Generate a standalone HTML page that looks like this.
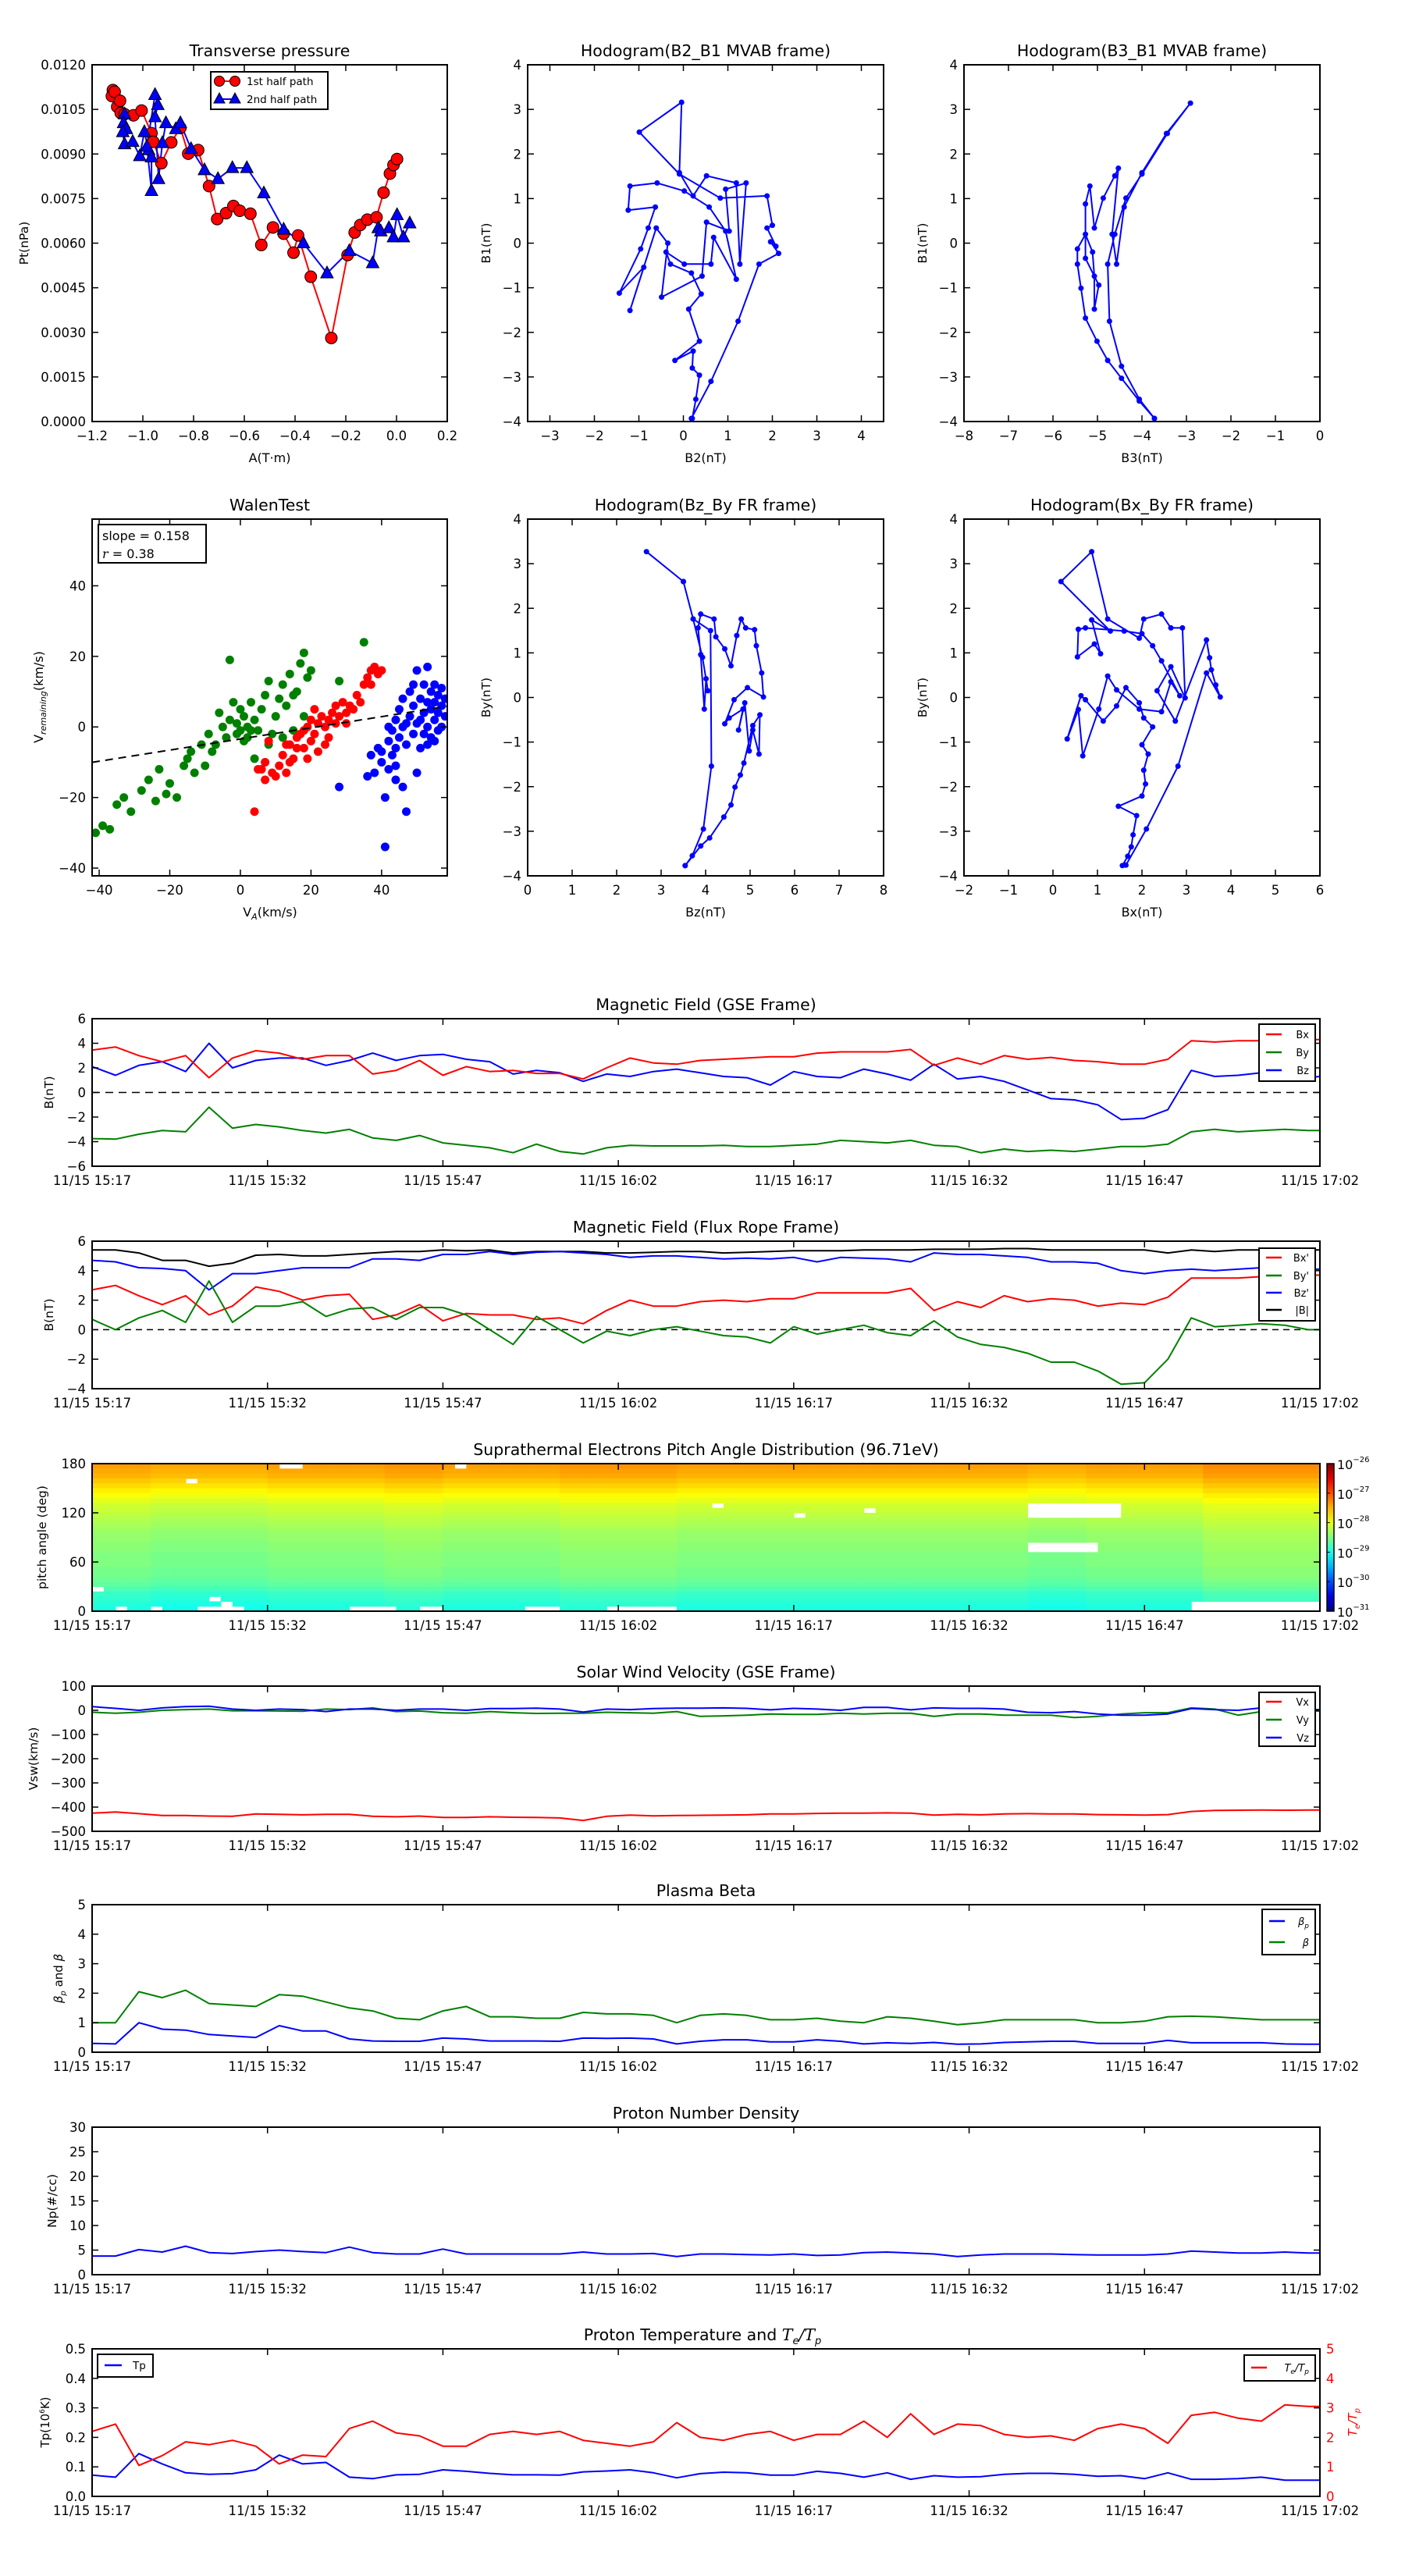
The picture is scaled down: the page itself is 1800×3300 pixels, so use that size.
<!DOCTYPE html>
<html><head><meta charset="utf-8">
<style>
html,body{margin:0;padding:0;background:#fff}
svg{display:block}
text{font-family:"DejaVu Sans","Liberation Sans",sans-serif;fill:#000}
</style></head>
<body>
<svg id="fig" xmlns="http://www.w3.org/2000/svg" width="1800" height="3300" viewBox="0 0 1800 3300"></svg>
<script>
// ---------- DATA ----------
const A1 = [-1.118,-1.122,-1.111,-1.101,-1.090,-1.087,-1.072,-1.037,-1.005,-0.966,-0.959,-0.927,-0.888,-0.852,-0.821,-0.782,-0.739,-0.707,-0.672,-0.643,-0.618,-0.576,-0.533,-0.487,-0.445,-0.406,-0.388,-0.338,-0.257,-0.193,-0.165,-0.143,-0.115,-0.079,-0.051,-0.026,-0.012,0.002];
const Pt1 = [0.01115,0.01095,0.01109,0.01059,0.01079,0.01038,0.01034,0.01030,0.01046,0.00970,0.00941,0.00869,0.00939,0.00988,0.00901,0.00913,0.00792,0.00681,0.00701,0.00725,0.00709,0.00699,0.00594,0.00653,0.00632,0.00568,0.00626,0.00487,0.00281,0.00560,0.00636,0.00661,0.00679,0.00687,0.00770,0.00834,0.00863,0.00883];
const A2 = [-1.072,-1.076,-1.065,-1.079,-1.072,-1.040,-1.012,-0.994,-0.977,-0.966,-0.966,-0.984,-0.952,-0.941,-0.952,-0.938,-0.923,-0.909,-0.870,-0.852,-0.810,-0.757,-0.704,-0.647,-0.590,-0.523,-0.445,-0.367,-0.274,-0.186,-0.094,-0.072,-0.062,-0.030,-0.012,0.002,0.027,0.052];
const Pt2 = [0.01034,0.01004,0.00984,0.00974,0.00933,0.00941,0.00893,0.00974,0.00913,0.00889,0.00776,0.00925,0.01099,0.01065,0.01024,0.00816,0.00937,0.01004,0.00984,0.01004,0.00917,0.00846,0.00816,0.00853,0.00853,0.00768,0.00646,0.00600,0.00499,0.00574,0.00533,0.00651,0.00640,0.00651,0.00620,0.00695,0.00620,0.00667];

const B2B1x = [0.20,0.28,0.36,0.20,0.22,-0.19,0.36,0.12,0.40,0.18,-0.29,-0.39,0.02,0.62,0.68,1.19,0.95,0.58,0.02,-0.59,-1.20,-1.24,-0.63,-0.79,-0.96,-1.44,-0.89,-1.20,-0.61,-0.35,-0.49,0.42,0.52,1.03,0.95,1.41,1.27,1.19,0.52,0.22,-0.09,-0.04,-0.99,-0.09,0.83,1.88,2.00,1.88,2.08,1.96,2.14,1.70,1.23,0.62,0.18];
const B2B1y = [-3.93,-3.50,-2.96,-2.80,-2.42,-2.63,-2.20,-1.48,-1.14,-0.67,-0.47,-0.20,-0.47,-0.47,0.13,-0.81,0.27,0.81,1.17,1.35,1.28,0.74,0.81,0.34,-0.13,-1.12,-0.54,-1.51,0.34,0.00,-1.21,-0.74,0.47,0.27,1.21,1.35,-0.47,1.35,1.51,1.06,1.58,3.16,2.49,1.55,1.01,1.06,0.40,0.34,-0.07,0.03,-0.23,-0.47,-1.75,-3.10,-3.93];
const B3B1x = [-3.72,-4.06,-4.46,-4.77,-5.01,-5.27,-5.37,-5.45,-5.45,-5.27,-5.11,-5.07,-5.07,-4.97,-5.27,-5.27,-5.17,-5.07,-4.87,-4.61,-4.53,-4.67,-4.57,-4.40,-4.00,-3.45,-2.91,-3.43,-4.00,-4.36,-4.61,-4.77,-4.73,-4.46,-4.06,-3.72];
const B3B1y = [-3.93,-3.54,-3.03,-2.63,-2.20,-1.68,-1.01,-0.47,-0.13,0.20,-0.20,-0.74,-1.48,-0.94,-0.34,0.88,1.28,0.34,1.01,1.51,1.68,0.20,-0.47,0.81,1.58,2.46,3.14,2.46,1.55,1.01,0.20,-0.47,-1.75,-2.76,-3.50,-3.93];
const BzByx = [3.54,3.89,4.09,4.41,4.57,4.66,4.78,4.86,5.06,5.22,5.20,5.06,4.98,4.88,4.74,4.84,4.53,4.43,4.64,4.94,5.30,5.26,5.14,5.10,4.90,4.80,4.70,4.57,4.43,4.23,4.19,3.89,3.83,3.89,3.97,4.01,4.05,3.93,3.72,3.50,2.67,3.50,3.72,4.11,4.13,3.95,3.70,3.54];
const BzByy = [-3.77,-3.33,-3.15,-2.68,-2.41,-2.01,-1.74,-1.47,-0.63,-0.39,-1.27,-0.73,-1.20,-0.12,-0.73,-0.26,-0.46,-0.59,-0.05,0.22,0.01,0.55,1.16,1.52,1.56,1.76,1.39,0.71,1.09,1.36,1.76,1.87,1.56,0.96,-0.26,0.42,0.15,0.90,1.76,2.60,3.27,2.60,1.76,1.50,-1.54,-2.95,-3.55,-3.77];
const BxByx = [1.56,1.68,1.76,1.80,1.88,1.47,2.00,2.08,2.04,2.14,2.00,2.24,2.04,1.94,1.64,1.43,1.13,0.73,0.63,0.32,0.57,0.67,1.03,1.23,1.43,1.94,2.44,2.65,2.85,2.44,2.24,2.00,1.60,0.73,0.57,0.55,0.93,1.07,0.87,1.29,0.18,0.87,1.23,1.94,2.04,2.44,2.65,2.91,2.97,2.65,2.34,2.75,3.45,3.52,3.56,3.66,3.76,3.45,2.81,2.10,1.64];
const BxByy = [-3.77,-3.56,-3.35,-3.08,-2.65,-2.44,-2.21,-1.94,-1.63,-1.27,-1.06,-0.66,-0.46,-0.12,0.22,-0.19,-0.53,-0.05,0.04,-0.93,-0.27,-1.31,-0.26,0.48,0.17,-0.26,-0.32,0.35,0.04,0.82,1.16,1.43,1.49,1.56,1.53,0.91,1.20,0.98,1.74,1.49,2.60,3.27,1.76,1.33,1.76,1.87,1.56,1.56,-0.01,0.69,0.15,-0.53,1.29,0.89,0.62,0.28,0.01,0.55,-1.54,-2.95,-3.76];

const walenGreenVA = [-41,-39,-37,-35,-33,-31,-28,-26,-24,-23,-21,-20,-18,-16,-15,-14,-13,-11,-10,-9,-8,-7,-6,-5,-4,-3,-2,-1,0,1,1,2,3,4,4,5,6,7,8,8,9,10,11,12,12,13,14,15,15,16,17,18,18,19,20,-3,0,2,-1,3,28,35];
const walenGreenVR = [-30,-28,-29,-22,-20,-24,-18,-15,-21,-12,-19,-16,-20,-11,-9,-7,-13,-5,-11,-2,-7,-5,4,0,-3,2,7,-2,5,3,-4,0,7,-9,2,-1,5,9,13,-5,-2,3,8,12,-3,6,15,9,-1,10,18,3,21,14,16,19,-1,-3,1,-1,13,24];
const walenRedVA = [4,5,6,7,7,8,9,10,11,12,13,14,14,15,16,16,17,18,18,19,20,20,21,22,22,23,24,25,25,26,27,27,28,29,30,31,32,33,34,35,36,37,38,39,40,37,19,24,13,21,30];
const walenRedVR = [-24,-12,-12,-15,-10,-4,-13,-14,-11,-8,-13,-10,-5,-9,-3,-6,-2,-1,-6,0,-4,2,-2,1,-7,3,0,2,-3,4,1,6,3,7,4,6,5,9,7,12,14,16,17,15,16,12,-9,-5,-5,5,1];
const walenBlueVA = [28,36,37,38,39,40,41,41,42,42,43,43,44,44,44,45,45,46,46,47,47,48,48,49,49,50,50,50,51,51,52,52,52,53,53,53,54,54,54,55,55,55,56,56,56,57,57,57,58,58,40,42,46,49,51,55,44,47,53];
const walenBlueVR = [-17,-14,-8,-13,-6,-10,-20,-34,-12,-4,-8,-1,-11,2,-6,-3,5,-17,0,-24,-5,3,10,-2,6,-13,1,16,8,-6,4,12,-2,17,7,0,10,-3,5,2,12,7,-1,9,4,6,11,0,3,8,-7,0,8,12,2,-4,-15,1,-5];
const walenSlope = 0.158, walenIntercept = -3.4;

// time grid (minutes after 11/15 15:17)
const T = [0,2,4,6,8,10,12,14,16,18,20,22,24,26,28,30,32,34,36,38,40,42,44,46,48,50,52,54,56,58,60,62,64,66,68,70,72,74,76,78,80,82,84,86,88,90,92,94,96,98,100,102,104,105];
const timeTickValues = [0,15,30,45,60,75,90,105];
const timeTickLabels = ['11/15 15:17','11/15 15:32','11/15 15:47','11/15 16:02','11/15 16:17','11/15 16:32','11/15 16:47','11/15 17:02'];

const gseBx = [3.45,3.7,3.0,2.5,3.0,1.2,2.8,3.4,3.2,2.7,3.0,3.0,1.5,1.8,2.6,1.4,2.1,1.7,1.8,1.55,1.55,1.1,2.0,2.8,2.4,2.3,2.6,2.7,2.8,2.9,2.9,3.2,3.3,3.3,3.3,3.5,2.2,2.8,2.3,3.0,2.7,2.85,2.6,2.5,2.3,2.3,2.7,4.2,4.1,4.2,4.2,4.2,4.3,4.3];
const gseBy = [-3.75,-3.8,-3.4,-3.1,-3.2,-1.2,-2.9,-2.6,-2.8,-3.1,-3.3,-3.0,-3.7,-3.9,-3.5,-4.1,-4.3,-4.5,-4.9,-4.2,-4.8,-5.0,-4.5,-4.3,-4.35,-4.35,-4.35,-4.3,-4.4,-4.4,-4.3,-4.2,-3.9,-4.0,-4.1,-3.9,-4.3,-4.4,-4.9,-4.6,-4.8,-4.7,-4.8,-4.6,-4.4,-4.4,-4.2,-3.2,-3.0,-3.2,-3.1,-3.0,-3.1,-3.1];
const gseBz = [2.1,1.4,2.2,2.5,1.7,4.0,2.0,2.6,2.8,2.8,2.2,2.6,3.2,2.6,3.0,3.1,2.7,2.5,1.5,1.8,1.6,0.9,1.5,1.3,1.7,1.9,1.6,1.3,1.2,0.6,1.7,1.3,1.2,1.9,1.5,1.0,2.3,1.1,1.3,0.9,0.2,-0.5,-0.6,-1.0,-2.2,-2.1,-1.4,1.8,1.3,1.4,1.6,1.5,1.2,1.3];

const frBx = [2.7,3.0,2.3,1.7,2.3,1.0,1.6,2.9,2.6,2.0,2.3,2.4,0.7,1.0,1.7,0.6,1.1,1.0,1.0,0.7,0.8,0.4,1.3,2.0,1.6,1.6,1.9,2.0,1.9,2.1,2.1,2.5,2.5,2.5,2.5,2.8,1.3,1.9,1.5,2.3,1.9,2.1,2.0,1.6,1.8,1.7,2.2,3.5,3.5,3.5,3.6,3.6,3.7,3.7];
const frBy = [0.7,0.0,0.8,1.3,0.5,3.3,0.5,1.6,1.6,1.9,0.9,1.4,1.5,0.7,1.5,1.5,1.0,0.0,-1.0,0.9,0.0,-0.9,-0.1,-0.4,0.0,0.2,-0.1,-0.4,-0.5,-0.9,0.2,-0.3,0.0,0.3,-0.2,-0.4,0.6,-0.5,-1.0,-1.2,-1.6,-2.2,-2.2,-2.8,-3.7,-3.6,-2.0,0.8,0.2,0.3,0.4,0.3,0.0,0.0];
const frBz = [4.7,4.6,4.2,4.15,4.0,2.7,3.8,3.8,4.0,4.2,4.2,4.2,4.8,4.8,4.7,5.1,5.1,5.3,5.1,5.25,5.3,5.2,5.1,4.9,5.0,5.0,4.9,4.8,4.85,4.8,4.9,4.6,4.9,4.85,4.8,4.6,5.2,5.1,5.1,5.0,4.9,4.6,4.6,4.5,4.0,3.8,4.0,4.1,4.0,4.1,4.2,4.1,4.1,4.1];
const frBmag = [5.4,5.4,5.2,4.7,4.7,4.3,4.5,5.05,5.1,5.0,5.0,5.1,5.2,5.3,5.3,5.4,5.35,5.4,5.2,5.3,5.3,5.3,5.2,5.2,5.25,5.3,5.3,5.2,5.25,5.3,5.35,5.35,5.35,5.4,5.4,5.4,5.45,5.45,5.45,5.5,5.5,5.4,5.4,5.4,5.4,5.4,5.2,5.4,5.3,5.4,5.4,5.4,5.4,5.4];

const vswVx = [-425,-420,-427,-435,-435,-437,-438,-428,-430,-432,-430,-430,-438,-440,-437,-443,-443,-440,-442,-443,-445,-455,-438,-433,-436,-435,-434,-433,-432,-428,-428,-426,-425,-425,-424,-425,-433,-430,-432,-428,-427,-428,-428,-431,-432,-433,-431,-418,-414,-413,-412,-413,-412,-412];
const vswVy = [-8,-12,-8,0,3,5,-2,-2,-3,-4,5,3,10,-5,-3,-10,-12,-5,-10,-13,-12,-12,-8,-10,-12,-5,-25,-23,-20,-15,-17,-17,-12,-15,-12,-12,-25,-15,-15,-20,-20,-20,-30,-25,-15,-10,-10,10,5,-20,-5,-3,-5,-3];
const vswVz = [15,8,0,10,15,17,5,0,5,3,-5,5,5,0,5,5,0,7,7,9,5,-7,5,3,7,9,9,10,8,2,8,5,0,12,12,2,10,8,8,5,-8,-10,-5,-15,-20,-20,-15,7,3,0,10,5,3,3];

const betaP = [.3,.28,1.0,.78,.75,.6,.55,.5,.9,.72,.72,.45,.38,.37,.37,.48,.45,.38,.38,.38,.37,.48,.47,.48,.45,.28,.37,.42,.42,.35,.35,.42,.37,.28,.32,.3,.33,.27,.28,.33,.35,.37,.37,.3,.3,.3,.4,.32,.32,.32,.32,.28,.27,.27];
const betaTot = [1.0,1.0,2.05,1.85,2.1,1.65,1.6,1.55,1.95,1.9,1.7,1.5,1.4,1.15,1.1,1.4,1.55,1.2,1.2,1.15,1.15,1.35,1.3,1.3,1.25,1.0,1.25,1.3,1.25,1.1,1.1,1.15,1.05,1.0,1.2,1.15,1.05,0.93,1.0,1.1,1.1,1.1,1.1,1.0,1.0,1.05,1.2,1.22,1.2,1.15,1.1,1.1,1.1,1.1];
const npDensity = [3.8,3.8,5.1,4.6,5.8,4.5,4.3,4.7,5.0,4.7,4.5,5.6,4.5,4.2,4.2,5.2,4.2,4.2,4.2,4.2,4.2,4.6,4.2,4.2,4.3,3.7,4.2,4.2,4.1,4.0,4.2,3.9,4.0,4.5,4.6,4.4,4.2,3.7,4.0,4.2,4.2,4.2,4.1,4.0,4.0,4.0,4.2,4.8,4.6,4.4,4.4,4.6,4.4,4.4];
const tpTemp = [.072,.065,.145,.11,.08,.075,.077,.09,.14,.11,.115,.065,.06,.073,.075,.09,.085,.078,.073,.073,.072,.083,.086,.09,.08,.063,.077,.082,.08,.072,.072,.085,.078,.065,.08,.058,.07,.065,.067,.075,.078,.078,.075,.068,.07,.06,.08,.058,.058,.06,.065,.055,.055,.055];
const teTpRatio = [2.2,2.45,1.05,1.38,1.85,1.75,1.9,1.7,1.1,1.4,1.35,2.3,2.55,2.15,2.05,1.7,1.7,2.1,2.2,2.1,2.2,1.9,1.8,1.7,1.85,2.5,2.0,1.9,2.1,2.2,1.9,2.1,2.1,2.55,2.0,2.8,2.1,2.45,2.4,2.1,2.0,2.05,1.9,2.3,2.45,2.3,1.8,2.75,2.85,2.65,2.55,3.1,3.05,3.05];

// PAD heatmap: log10 flux per pitch-angle row (top row = 174-180 deg first), per 5-min segment offsets, blank cells
const padRowLog = [-27.4,-27.45,-27.5,-27.6,-27.7,-27.8,-27.9,-28.0,-28.1,-28.15,-28.2,-28.25,-28.3,-28.35,-28.4,-28.4,-28.45,-28.45,-28.5,-28.5,-28.5,-28.55,-28.55,-28.6,-28.65,-28.75,-28.85,-28.9,-28.95,-29.0];
const padSegOffset = [0,-0.05,-0.05,0,0,0.05,0,0,0.05,0.05,0,0,0,0,0,0,-0.05,0,0,0.1,0.1];
const padBlankCol = [2,5,9,10,11,11,12,22,23,24,25,28,29,37,38,39,44,45,46,47,48,49,0,10,8,16,17,31,53,60,66];
const padBlankRow = [29,29,29,29,28,29,29,29,29,29,29,29,29,29,29,29,29,29,29,29,29,29,25,27,3,0,0,0,8,10,9];
const padBlockCols = [[80,87],[80,85],[94,104]];
const padBlockRows = [[8,10],[16,17],[28,29]];
const cbDecades = [-26,-27,-28,-29,-30,-31];

// ---------- HELPERS ----------
const NS = 'http://www.w3.org/2000/svg';
const svg = document.getElementById('fig');
function mk(tag, attrs, parent, name, inter) {
  const e = document.createElementNS(NS, tag);
  for (const k in attrs) e.setAttribute(k, attrs[k]);
  
  
  (parent || svg).appendChild(e);
  return e;
}
function txt(str, x, y, attrs, parent, name) {
  const t = mk('text', Object.assign({x: x, y: y}, attrs || {}), parent, name);
  t.textContent = str;
  return t;
}
const minus = s => String(s).replace('-', '\u2212');
function axes(name, x0, x1, y0, y1, xd, yd) {
  const g = mk('g', {}, svg, name);
  const sx = v => x0 + (v - xd[0]) / (xd[1] - xd[0]) * (x1 - x0);
  const sy = v => y1 - (v - yd[0]) / (yd[1] - yd[0]) * (y1 - y0);
  const cid = 'clip-' + name;
  const cp = mk('clipPath', {id: cid}, g, name + '-clip');
  mk('rect', {x: x0, y: y0, width: x1 - x0, height: y1 - y0}, cp, name + '-clip-rect');
  const plot = mk('g', {'clip-path': 'url(#' + cid + ')'}, g, name + '-plot-area');
  return {name, g, plot, sx, sy, x0, x1, y0, y1};
}
function frame(ax, xt, xl, yt, yl, opt) {
  opt = opt || {};
  mk('rect', {x: ax.x0, y: ax.y0, width: ax.x1 - ax.x0, height: ax.y1 - ax.y0, fill: 'none', stroke: '#000', 'stroke-width': 2}, ax.g, ax.name + '-frame');
  const xg = mk('g', {}, ax.g, ax.name + '-x-axis');
  xt.forEach((v, i) => {
    const x = ax.sx(v);
    mk('line', {x1: x, x2: x, y1: ax.y1, y2: ax.y1 - 8, stroke: '#000', 'stroke-width': 1.5}, xg, 'x-tick');
    mk('line', {x1: x, x2: x, y1: ax.y0, y2: ax.y0 + 8, stroke: '#000', 'stroke-width': 1.5}, xg, 'x-tick-top');
    txt(xl[i], x, ax.y1 + 24, {'text-anchor': 'middle', 'font-size': 16.5}, xg, 'x-tick-label');
  });
  const yg = mk('g', {}, ax.g, ax.name + '-y-axis');
  yt.forEach((v, i) => {
    const y = ax.sy(v);
    mk('line', {x1: ax.x0, x2: ax.x0 + 8, y1: y, y2: y, stroke: '#000', 'stroke-width': 1.5}, yg, 'y-tick');
    if (!opt.noRight) mk('line', {x1: ax.x1, x2: ax.x1 - 8, y1: y, y2: y, stroke: '#000', 'stroke-width': 1.5}, yg, 'y-tick-right');
    txt(yl[i], ax.x0 - 8, y + 6, {'text-anchor': 'end', 'font-size': 16.5}, yg, 'y-tick-label');
  });
}
function title(ax, s, name) {
  return txt(s, (ax.x0 + ax.x1) / 2, ax.y0 - 11, {'text-anchor': 'middle', 'font-size': 20.5}, ax.g, name);
}
function ylabel(ax, s, x, name) {
  const cy = (ax.y0 + ax.y1) / 2;
  return txt(s, x, cy, {'text-anchor': 'middle', 'font-size': 15.5, transform: 'rotate(-90 ' + x + ' ' + cy + ')', dy: 5}, ax.g, name);
}
function xlabel(ax, s, name) {
  return txt(s, (ax.x0 + ax.x1) / 2, ax.y1 + 52, {'text-anchor': 'middle', 'font-size': 16}, ax.g, name);
}
function line(ax, xs, ys, color, name, extra) {
  const n = Math.min(xs.length, ys.length);
  const pts = [];
  for (let i = 0; i < n; i++) pts.push(ax.sx(xs[i]).toFixed(1) + ',' + ax.sy(ys[i]).toFixed(1));
  return mk('polyline', Object.assign({points: pts.join(' '), fill: 'none', stroke: color, 'stroke-width': 2, 'stroke-linejoin': 'round'}, extra || {}), ax.plot, name);
}
function range(a, b, s) { const r = []; for (let v = a; v <= b + 1e-9; v += s) r.push(+v.toFixed(6)); return r; }
function legend(x, y, w, h, items, name, fs) {
  const g = mk('g', {}, svg, name);
  mk('rect', {x: x, y: y, width: w, height: h, fill: '#fff', stroke: '#000', 'stroke-width': 2}, g, name + '-box');
  items.forEach(it => {
    const e = mk('g', {}, g, 'legend-entry');
    mk('line', {x1: x + 9, x2: x + 29, y1: it.y, y2: it.y, stroke: it.color, 'stroke-width': 2.5}, e, 'legend-swatch');
    const t = txt('', x + w - 8, it.y + 5, {'text-anchor': 'end', 'font-size': fs || 13}, e, 'legend-label');
    it.parts.forEach(p => {
      const ts = mk('tspan', p.attrs || {}, t, 'legend-label-part');
      ts.textContent = p.s;
    });
  });
  return g;
}
function timeFrame(ax, yt, yl, opt) {
  frame(ax, timeTickValues, timeTickLabels, yt, yl, opt);
}
function zeroLine(ax, dash) {
  mk('line', {x1: ax.x0, x2: ax.x1, y1: ax.sy(0), y2: ax.sy(0), stroke: '#000', 'stroke-width': 1.5, 'stroke-dasharray': dash || '10,7'}, ax.plot, 'zero-line');
}
function jet(v) {
  v = Math.max(0, Math.min(1, v));
  const c = x => Math.round(255 * Math.max(0, Math.min(1, x)));
  return 'rgb(' + c(1.5 - Math.abs(4 * v - 3)) + ',' + c(1.5 - Math.abs(4 * v - 2)) + ',' + c(1.5 - Math.abs(4 * v - 1)) + ')';
}

// ---------- 1. Transverse pressure ----------
{
  const ax = axes('transverse-pressure-chart', 118, 573, 83, 540, [-1.2, 0.2], [0, 0.012]);
  line(ax, A1, Pt1, '#f00', 'first-half-path-line');
  line(ax, A2, Pt2, '#00f', 'second-half-path-line');
  for (let i = 0; i < A1.length; i++) {
    mk('circle', {cx: ax.sx(A1[i]), cy: ax.sy(Pt1[i]), r: 7.5, fill: '#f00', stroke: '#000', 'stroke-width': 1}, ax.plot, 'first-half-point');
  }
  for (let i = 0; i < A2.length; i++) {
    const x = ax.sx(A2[i]), y = ax.sy(Pt2[i]);
    mk('polygon', {points: x + ',' + (y - 9) + ' ' + (x - 8) + ',' + (y + 6) + ' ' + (x + 8) + ',' + (y + 6), fill: '#00f', stroke: '#000', 'stroke-width': 1}, ax.plot, 'second-half-point');
  }
  const xt = range(-1.2, 0.2, 0.2);
  const yt = range(0, 0.012, 0.0015);
  frame(ax, xt, xt.map(v => minus(v.toFixed(1))), yt, yt.map(v => v.toFixed(4)));
  title(ax, 'Transverse pressure', 'transverse-pressure-title');
  xlabel(ax, 'A(T\u00b7m)', 'x-axis-title');
  ylabel(ax, 'Pt(nPa)', 31, 'y-axis-title');
  const lg = mk('g', {}, svg, 'transverse-legend');
  mk('rect', {x: 270, y: 92, width: 150, height: 48, fill: '#fff', stroke: '#000', 'stroke-width': 2}, lg, 'transverse-legend-box');
  const e1 = mk('g', {}, lg, 'legend-entry');
  mk('line', {x1: 281, x2: 301, y1: 104, y2: 104, stroke: '#f00', 'stroke-width': 2}, e1, 'legend-swatch');
  mk('circle', {cx: 281, cy: 104, r: 6.5, fill: '#f00', stroke: '#000'}, e1, 'legend-marker');
  mk('circle', {cx: 301, cy: 104, r: 6.5, fill: '#f00', stroke: '#000'}, e1, 'legend-marker');
  txt('1st half path', 316, 109, {'font-size': 13.5}, e1, 'legend-label');
  const e2 = mk('g', {}, lg, 'legend-entry');
  mk('line', {x1: 281, x2: 301, y1: 127, y2: 127, stroke: '#00f', 'stroke-width': 2}, e2, 'legend-swatch');
  mk('polygon', {points: '281,119 274,132 288,132', fill: '#00f', stroke: '#000'}, e2, 'legend-marker');
  mk('polygon', {points: '301,119 294,132 308,132', fill: '#00f', stroke: '#000'}, e2, 'legend-marker');
  txt('2nd half path', 316, 132, {'font-size': 13.5}, e2, 'legend-label');
}

// ---------- hodograms ----------
function hodo(name, x0, x1, y0, y1, xd, xs, ys, xtv, tl, xl, yl, ylx) {
  const ax = axes(name, x0, x1, y0, y1, xd, [-4, 4]);
  line(ax, xs, ys, '#00f', name + '-path');
  for (let i = 0; i < xs.length; i++) {
    mk('circle', {cx: ax.sx(xs[i]), cy: ax.sy(ys[i]), r: 3.5, fill: '#00f'}, ax.plot, name + '-point');
  }
  const yt = range(-4, 4, 1);
  frame(ax, xtv, xtv.map(v => minus(v)), yt, yt.map(v => minus(v)));
  title(ax, tl, name + '-title');
  xlabel(ax, xl, 'x-axis-title');
  ylabel(ax, yl, ylx, 'y-axis-title');
}
hodo('hodogram-b2-b1', 676, 1132, 83, 540, [-3.5, 4.5], B2B1x, B2B1y, range(-3, 4, 1), 'Hodogram(B2_B1 MVAB frame)', 'B2(nT)', 'B1(nT)', 623);
hodo('hodogram-b3-b1', 1235, 1691, 83, 540, [-8, 0], B3B1x, B3B1y, range(-8, 0, 1), 'Hodogram(B3_B1 MVAB frame)', 'B3(nT)', 'B1(nT)', 1182);
hodo('hodogram-bz-by', 676, 1132, 665, 1122, [0, 8], BzByx, BzByy, range(0, 8, 1), 'Hodogram(Bz_By FR frame)', 'Bz(nT)', 'By(nT)', 623);
hodo('hodogram-bx-by', 1235, 1691, 665, 1122, [-2, 6], BxByx, BxByy, range(-2, 6, 1), 'Hodogram(Bx_By FR frame)', 'Bx(nT)', 'By(nT)', 1182);

// ---------- Walen test ----------
{
  const ax = axes('walen-test-chart', 118, 573, 665, 1122, [-42, 58.6], [-42.2, 58.9]);
  const groups = [[walenGreenVA, walenGreenVR, '#008000', 'walen-green-point'], [walenRedVA, walenRedVR, '#f00', 'walen-red-point'], [walenBlueVA, walenBlueVR, '#00f', 'walen-blue-point']];
  groups.forEach(g => {
    for (let i = 0; i < g[0].length; i++) {
      mk('circle', {cx: ax.sx(g[0][i]), cy: ax.sy(g[1][i]), r: 5.5, fill: g[2]}, ax.plot, g[3]);
    }
  });
  const fx = [-42, 58.6];
  line(ax, fx, fx.map(v => walenSlope * v + walenIntercept), '#000', 'walen-fit-line', {'stroke-dasharray': '10,7'});
  const t = [-40, -20, 0, 20, 40];
  frame(ax, t, t.map(minus), t, t.map(minus));
  title(ax, 'WalenTest', 'walen-test-title');
  const xl = txt('V', 346, 1174, {'text-anchor': 'middle', 'font-size': 16}, ax.g, 'x-axis-title');
  const s1 = mk('tspan', {'font-size': 11, 'font-style': 'italic', dy: 4}, xl, 'x-axis-title-sub'); s1.textContent = 'A';
  const s2 = mk('tspan', {dy: -4}, xl, 'x-axis-title-rest'); s2.textContent = '(km/s)';
  const cy = 893;
  const yl = txt('V', 50, cy, {'text-anchor': 'middle', 'font-size': 16, transform: 'rotate(-90 50 ' + cy + ')', dy: 5}, ax.g, 'y-axis-title');
  const s3 = mk('tspan', {'font-size': 11, 'font-style': 'italic', dy: 4}, yl, 'y-axis-title-sub'); s3.textContent = 'remaining';
  const s4 = mk('tspan', {dy: -4}, yl, 'y-axis-title-rest'); s4.textContent = '(km/s)';
  const bx = mk('g', {}, svg, 'walen-stats-box');
  mk('rect', {x: 126, y: 672, width: 138, height: 49, fill: '#fff', stroke: '#000', 'stroke-width': 2}, bx, 'walen-stats-frame');
  txt('slope = 0.158', 131, 692, {'font-size': 16}, bx, 'walen-slope-text');
  const rt = txt('', 131, 715, {'font-size': 16}, bx, 'walen-r-text');
  const r1 = mk('tspan', {'font-style': 'italic', 'font-family': 'DejaVu Serif, serif'}, rt, 'walen-r-symbol'); r1.textContent = 'r';
  const r2 = mk('tspan', {}, rt, 'walen-r-value'); r2.textContent = ' = 0.38';
}

// ---------- Magnetic field GSE ----------
{
  const ax = axes('magnetic-field-gse-chart', 118, 1691, 1305, 1494, [0, 105], [-6, 6]);
  zeroLine(ax);
  line(ax, T, gseBy, '#008000', 'gse-by-line');
  line(ax, T, gseBz, '#00f', 'gse-bz-line');
  line(ax, T, gseBx, '#f00', 'gse-bx-line');
  const yt = range(-6, 6, 2);
  timeFrame(ax, yt, yt.map(minus));
  title(ax, 'Magnetic Field (GSE Frame)', 'magnetic-field-gse-title');
  ylabel(ax, 'B(nT)', 63, 'y-axis-title');
  legend(1613, 1312, 72, 73, [{y: 1325, color: '#f00', parts: [{s: 'Bx'}]}, {y: 1348, color: '#008000', parts: [{s: 'By'}]}, {y: 1371, color: '#00f', parts: [{s: 'Bz'}]}], 'gse-legend');
}

// ---------- Magnetic field FR ----------
{
  const ax = axes('magnetic-field-fr-chart', 118, 1691, 1590, 1779, [0, 105], [-4, 6]);
  zeroLine(ax, '8,6');
  line(ax, T, frBmag, '#000', 'fr-bmag-line');
  line(ax, T, frBz, '#00f', 'fr-bz-line');
  line(ax, T, frBx, '#f00', 'fr-bx-line');
  line(ax, T, frBy, '#008000', 'fr-by-line');
  const yt = range(-4, 6, 2);
  timeFrame(ax, yt, yt.map(minus));
  title(ax, 'Magnetic Field (Flux Rope Frame)', 'magnetic-field-fr-title');
  ylabel(ax, 'B(nT)', 63, 'y-axis-title');
  legend(1613, 1599, 72, 93, [{y: 1611, color: '#f00', parts: [{s: "Bx'"}]}, {y: 1634, color: '#008000', parts: [{s: "By'"}]}, {y: 1656, color: '#00f', parts: [{s: "Bz'"}]}, {y: 1678, color: '#000', parts: [{s: '|B|'}]}], 'fr-legend');
}

// ---------- PAD heatmap ----------
{
  const ax = axes('pitch-angle-distribution-chart', 118, 1691, 1875, 2064, [0, 105], [0, 180]);
  const nRows = padRowLog.length;
  const blank = {};
  for (let i = 0; i < padBlankCol.length; i++) blank[padBlankCol[i] + ',' + padBlankRow[i]] = 1;
  for (let b = 0; b < padBlockCols.length; b++)
    for (let c = padBlockCols[b][0]; c <= padBlockCols[b][1]; c++)
      for (let r = padBlockRows[b][0]; r <= padBlockRows[b][1]; r++) blank[c + ',' + r] = 1;
  for (let c = 0; c < 105; c++) {
    for (let r = 0; r < nRows; r++) {
      if (blank[c + ',' + r]) continue;
      const lv = padRowLog[r] + padSegOffset[Math.floor(c / 5)];
      const top = 180 - r * 180 / nRows;
      const x = ax.sx(c), y = ax.sy(top);
      mk('rect', {x: x.toFixed(1), y: y.toFixed(1), width: (ax.sx(c + 1) - x + 0.6).toFixed(1), height: (ax.sy(top - 180 / nRows) - y + 0.6).toFixed(1), fill: jet((lv + 31) / 5)}, ax.plot, 'pad-cell');
    }
  }
  timeFrame(ax, [0, 60, 120, 180], ['0', '60', '120', '180']);
  title(ax, 'Suprathermal Electrons Pitch Angle Distribution (96.71eV)', 'pad-title');
  ylabel(ax, 'pitch angle (deg)', 54, 'y-axis-title');
  const cb = mk('g', {}, svg, 'pad-colorbar');
  const defs = mk('defs', {}, cb, 'colorbar-defs');
  const gr = mk('linearGradient', {id: 'jetgrad', x1: 0, y1: 1, x2: 0, y2: 0}, defs, 'colorbar-gradient');
  for (let i = 0; i <= 10; i++) mk('stop', {offset: i / 10, 'stop-color': jet(i / 10)}, gr, 'colorbar-stop');
  mk('rect', {x: 1700, y: 1875, width: 9, height: 189, fill: 'url(#jetgrad)', stroke: '#000', 'stroke-width': 1.5}, cb, 'colorbar-bar');
  cbDecades.forEach(d => {
    const y = 1875 + (-26 - d) / 5 * 189;
    mk('line', {x1: 1700, x2: 1704, y1: y, y2: y, stroke: '#000'}, cb, 'colorbar-tick');
    const t = txt('10', 1713, y + 7, {'font-size': 16}, cb, 'colorbar-tick-label');
    const sp = mk('tspan', {'font-size': 10, dy: -9}, t, 'colorbar-tick-exponent'); sp.textContent = minus(d);
  });
}

// ---------- Solar wind velocity ----------
{
  const ax = axes('solar-wind-velocity-chart', 118, 1691, 2160, 2346, [0, 105], [-500, 100]);
  line(ax, T, vswVx, '#f00', 'vsw-vx-line');
  line(ax, T, vswVy, '#008000', 'vsw-vy-line');
  line(ax, T, vswVz, '#00f', 'vsw-vz-line');
  const yt = range(-500, 100, 100);
  timeFrame(ax, yt, yt.map(minus));
  title(ax, 'Solar Wind Velocity (GSE Frame)', 'solar-wind-velocity-title');
  ylabel(ax, 'Vsw(km/s)', 43, 'y-axis-title');
  legend(1613, 2168, 72, 69, [{y: 2180, color: '#f00', parts: [{s: 'Vx'}]}, {y: 2203, color: '#008000', parts: [{s: 'Vy'}]}, {y: 2226, color: '#00f', parts: [{s: 'Vz'}]}], 'vsw-legend');
}

// ---------- Plasma beta ----------
{
  const ax = axes('plasma-beta-chart', 118, 1691, 2440, 2629, [0, 105], [0, 5]);
  line(ax, T, betaTot, '#008000', 'beta-total-line');
  line(ax, T, betaP, '#00f', 'beta-proton-line');
  const yt = range(0, 5, 1);
  timeFrame(ax, yt, yt.map(String));
  title(ax, 'Plasma Beta', 'plasma-beta-title');
  const cy = (2440 + 2629) / 2;
  const yl = txt('', 75, cy, {'text-anchor': 'middle', 'font-size': 15, transform: 'rotate(-90 75 ' + cy + ')', dy: 5}, ax.g, 'y-axis-title');
  const a = mk('tspan', {'font-style': 'italic'}, yl, 'y-title-beta'); a.textContent = '\u03b2';
  const b = mk('tspan', {'font-size': 10, 'font-style': 'italic', dy: 4}, yl, 'y-title-sub'); b.textContent = 'p';
  const c = mk('tspan', {dy: -4}, yl, 'y-title-mid'); c.textContent = ' and ';
  const d = mk('tspan', {'font-style': 'italic'}, yl, 'y-title-beta2'); d.textContent = '\u03b2';
  legend(1617, 2446, 68, 58, [{y: 2461, color: '#00f', parts: [{s: '\u03b2', attrs: {'font-style': 'italic'}}, {s: 'p', attrs: {'font-size': 9, 'font-style': 'italic', dy: 4}}]}, {y: 2488, color: '#008000', parts: [{s: '\u03b2', attrs: {'font-style': 'italic'}}]}], 'beta-legend');
}

// ---------- Proton density ----------
{
  const ax = axes('proton-density-chart', 118, 1691, 2725, 2914, [0, 105], [0, 30]);
  line(ax, T, npDensity, '#00f', 'np-line');
  const yt = range(0, 30, 5);
  timeFrame(ax, yt, yt.map(String));
  title(ax, 'Proton Number Density', 'proton-density-title');
  ylabel(ax, 'Np(#/cc)', 67, 'y-axis-title');
}

// ---------- Proton temperature ----------
{
  const ax = axes('proton-temperature-chart', 118, 1691, 3009, 3198, [0, 105], [0, 0.5]);
  const ax2 = {sx: ax.sx, sy: v => 3198 - v / 5 * 189, plot: ax.plot};
  line(ax, T, tpTemp, '#00f', 'tp-line');
  line(ax2, T, teTpRatio, '#f00', 'te-tp-ratio-line');
  const yt = range(0, 0.5, 0.1);
  timeFrame(ax, yt, yt.map(v => v.toFixed(1)), {noRight: true});
  const rg = mk('g', {}, ax.g, 'right-y-axis');
  range(0, 5, 1).forEach(v => {
    const y = ax2.sy(v);
    mk('line', {x1: 1691, x2: 1683, y1: y, y2: y, stroke: '#000', 'stroke-width': 1.5}, rg, 'y-tick-right');
    txt(String(v), 1699, y + 6, {'font-size': 16.5, fill: '#f00', style: 'fill:#f00'}, rg, 'right-tick-label');
  });
  const tt = txt('Proton Temperature and ', 900, 2998, {'text-anchor': 'middle', 'font-size': 20.5}, ax.g, 'proton-temperature-title');
  const m1 = mk('tspan', {'font-style': 'italic', 'font-family': 'DejaVu Serif, serif'}, tt, 'title-math'); m1.textContent = 'T';
  const m2 = mk('tspan', {'font-size': 13, 'font-style': 'italic', dy: 5}, tt, 'title-math-sub'); m2.textContent = 'e';
  const m3 = mk('tspan', {dy: -5, 'font-style': 'italic', 'font-family': 'DejaVu Serif, serif'}, tt, 'title-math'); m3.textContent = '/T';
  const m4 = mk('tspan', {'font-size': 13, 'font-style': 'italic', dy: 5}, tt, 'title-math-sub'); m4.textContent = 'p';
  const cy = 3103;
  const yl = txt('Tp(10', 58, cy, {'text-anchor': 'middle', 'font-size': 15, transform: 'rotate(-90 58 ' + cy + ')', dy: 5}, ax.g, 'y-axis-title');
  const e1 = mk('tspan', {'font-size': 9, dy: -6}, yl, 'y-title-exp'); e1.textContent = '6';
  const e2 = mk('tspan', {dy: 6}, yl, 'y-title-rest'); e2.textContent = 'K)';
  const ry = txt('', 1733, cy, {'text-anchor': 'middle', 'font-size': 15, style: 'fill:#f00', transform: 'rotate(-90 1733 ' + cy + ')', dy: 5}, ax.g, 'right-y-axis-title');
  const q1 = mk('tspan', {'font-style': 'italic'}, ry, 'right-title-part'); q1.textContent = 'T';
  const q2 = mk('tspan', {'font-size': 10, 'font-style': 'italic', dy: 4}, ry, 'right-title-part'); q2.textContent = 'e';
  const q3 = mk('tspan', {'font-style': 'italic', dy: -4}, ry, 'right-title-part'); q3.textContent = '/T';
  const q4 = mk('tspan', {'font-size': 10, 'font-style': 'italic', dy: 4}, ry, 'right-title-part'); q4.textContent = 'p';
  const lg1 = mk('g', {}, svg, 'tp-legend');
  mk('rect', {x: 125, y: 3016, width: 71, height: 29, fill: '#fff', stroke: '#000', 'stroke-width': 2}, lg1, 'tp-legend-box');
  mk('line', {x1: 134, x2: 156, y1: 3030, y2: 3030, stroke: '#00f', 'stroke-width': 2.5}, lg1, 'legend-swatch');
  txt('Tp', 170, 3035, {'font-size': 13.5}, lg1, 'legend-label');
  legend(1594, 3017, 91, 33, [{y: 3033, color: '#f00', parts: [{s: 'T', attrs: {'font-style': 'italic'}}, {s: 'e', attrs: {'font-size': 9, 'font-style': 'italic', dy: 3}}, {s: '/T', attrs: {'font-style': 'italic', dy: -3}}, {s: 'p', attrs: {'font-size': 9, 'font-style': 'italic', dy: 3}}]}], 'te-tp-legend');
}
</script>
</body></html>
